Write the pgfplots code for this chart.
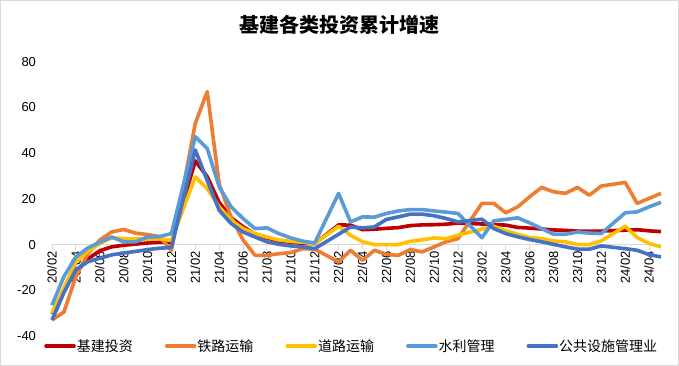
\documentclass[border=0pt]{standalone}
\usepackage{pgfplots}
\pgfplotsset{compat=1.18}
\usepackage{pgfplotstable}
\usepackage{fontspec}
\setmainfont{Liberation Sans}
\newfontfamily\cjk{Noto Sans CJK SC}
\definecolor{cRed}{HTML}{C00000}
\definecolor{cOrange}{HTML}{ED7D31}
\definecolor{cYellow}{HTML}{FFC000}
\definecolor{cLBlue}{HTML}{5B9BD5}
\definecolor{cDBlue}{HTML}{4472C4}
\definecolor{cAxis}{HTML}{D9D9D9}

\pgfplotsset{
  common/.style={
    at={(52pt,30pt)}, anchor=south west,
    scale only axis, width=609pt, height=274.3pt,
    xmin=0, xmax=51, ymin=-40, ymax=80,
    clip=false,
  },
}

\pgfplotstableread{
x jj tl dl sl gg
0 -30.3 -33 -30 -26.5 -33
1 -19.7 -29.5 -19 -14 -21
2 -11.8 -14 -7.5 -5.4 -11
3 -6.3 -4 -3 -1.5 -7.5
4 -2.7 2 0.5 1 -6
5 -1.0 5.5 3 3.3 -4.5
6 -0.3 6.6 2.6 1.2 -3.7
7 0.2 5.0 2.5 1.2 -3
8 0.7 4.4 2.3 3.3 -2.2
9 1.0 3.5 2.5 3.5 -1.6
10 0.9 -2.5 1.8 4.8 -1.3
12 36.6 53 29.6 47.2 41.4
13 29.7 66.9 24.5 42 28
14 18.4 26.5 16.5 25.3 15
15 11.8 12 10.7 16.5 9.2
16 7.8 2 7 11.4 5.5
17 4.6 -4.7 4.8 7 3.3
18 2.9 -4.7 3.3 7.3 1.2
19 1.5 -4 2 4.8 0.1
20 1.0 -3.5 1.4 2.9 -0.6
21 0.5 -1.8 1.0 1.5 -1
22 0.4 -2 0.4 0.7 -1.8
24 8.6 -7.6 8 22.4 4.5
25 8.5 -2.5 4.1 9.9 7.7
26 6.5 -6.9 1.2 12.1 7.3
27 6.7 -2.5 0 12 7.7
28 7.1 -4.3 0 13.6 11
29 7.4 -4.7 0 14.7 12.1
30 8.3 -2.2 1.4 15.3 13.3
31 8.6 -3.2 2.1 15.3 13.3
32 8.7 -1 2.9 14.7 12.6
33 8.9 1.2 2.6 14.2 11.4
34 9.4 2.6 4.1 13.6 9.9
36 9.0 18 6.7 3 11.1
37 8.8 18 8 10.4 7
38 8.5 13.9 6 11 4.8
39 7.5 16.5 4.5 11.7 3.4
40 7.2 20.9 3.1 9.5 2.2
41 6.8 25 2.6 7 1.2
42 6.4 23.1 1.6 4.5 0.1
43 6.2 22.4 1.2 4.5 -1
44 5.9 25 0 5.5 -2
45 5.8 21.6 0 5 -2
46 5.9 25.6 1.6 4.8 -0.6
48 6.3 27.2 8 13.9 -1.8
49 6.5 18 3.1 14.3 -2.5
50 6.0 20.2 0.5 16.5 -4.4
51 5.7 22.4 -1 18.5 -5.4
}\data

\begin{document}
\begin{tikzpicture}
\path[use as bounding box] (0,0) rectangle (679pt,366pt);
\fill[white] (0,0) rectangle (679pt,366pt);
\draw[cAxis, line width=1pt] (0.5pt,0.5pt) rectangle (678.5pt,365.5pt);
\node[font=\cjk\bfseries\fontsize{20}{24}\selectfont] at (339.5pt,341pt) {基建各类投资累计增速};
% axis, ticks and tick labels (drawn beneath the lines)
\begin{axis}[
  common,
  axis x line=middle, axis y line=left,
  hide obscured x ticks=false, hide obscured y ticks=false,
  x axis line style={cAxis, line width=1pt, -},
  y axis line style={draw=none},
  xtick={0,2,...,50},
  xticklabels={20/02,20/04,20/06,20/08,20/10,20/12,21/02,21/04,21/06,21/08,21/10,21/12,22/02,22/04,22/06,22/08,22/10,22/12,23/02,23/04,23/06,23/08,23/10,23/12,24/02,24/04},
  xtick align=outside,
  x tick style={cAxis, line width=1pt},
  major tick length=5pt,
  xticklabel style={rotate=90, anchor=east, font=\fontsize{13}{15}\selectfont, inner sep=1.5pt},
  ytick={-40,-20,...,80},
  y tick style={draw=none},
  yticklabel style={font=\fontsize{13}{15}\selectfont, xshift=-10pt},
  /pgf/number format/assume math mode=true,
]
\end{axis}
% the series, drawn over the labels
\begin{axis}[
  common,
  hide axis,
  legend columns=5,
  legend style={at={(axis description cs:-0.0131,-0.0365)}, anchor=west, draw=none, fill=none, inner sep=0pt,
    font=\cjk\fontsize{14}{16}\selectfont,
    nodes={inner xsep=1pt, inner ysep=1pt},
    /tikz/every even column/.append style={column sep=31pt}},
  legend image code/.code={\draw[#1, line width=3.6pt, line cap=round] (0pt,0pt) -- (28pt,0pt);},
  every axis plot/.append style={line width=3.6pt, line join=round},
]
\addplot[cRed] table[x=x,y=jj]{\data};
\addlegendentry{基建投资}
\addplot[cOrange] table[x=x,y=tl]{\data};
\addlegendentry{铁路运输}
\addplot[cYellow] table[x=x,y=dl]{\data};
\addlegendentry{道路运输}
\addplot[cLBlue] table[x=x,y=sl]{\data};
\addlegendentry{水利管理}
\addplot[cDBlue] table[x=x,y=gg]{\data};
\addlegendentry{公共设施管理业}
\end{axis}
\end{tikzpicture}
\end{document}
